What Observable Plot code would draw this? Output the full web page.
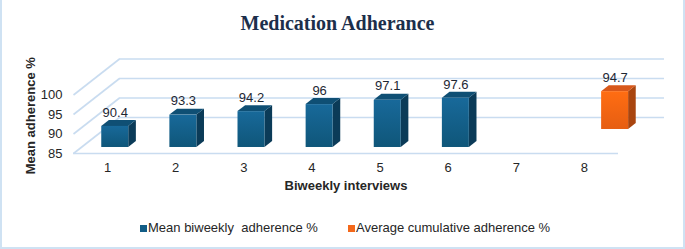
<!DOCTYPE html>
<html>
<head>
<meta charset="utf-8">
<script src="https://cdn.jsdelivr.net/npm/d3@7"></script>
<script src="https://cdn.jsdelivr.net/npm/@observablehq/plot@0.6"></script>
<style>
html,body{margin:0;padding:0;background:#fff;}
#wrap{position:relative;width:685px;height:249px;overflow:hidden;font-family:"Liberation Sans",Arial,sans-serif;background:#fff;}
#title{position:absolute;left:-5px;top:12px;width:685px;text-align:center;font-family:"Liberation Serif","Times New Roman",serif;font-weight:bold;font-size:20px;line-height:22px;color:#1c2f4b;}
#chart{position:absolute;left:0;top:40px;}
#legend{position:absolute;left:0;top:220px;width:685px;height:16px;font-size:13px;line-height:16px;color:#262626;}
.item{position:absolute;top:0;white-space:pre;}
.sw{display:inline-block;width:7px;height:7px;margin-right:1px;vertical-align:0px;}
#border{position:absolute;left:0;top:0;width:685px;height:249px;box-sizing:border-box;border:2px solid #cfe2f3;border-top:none;pointer-events:none;}
</style>
</head>
<body>
<div id="wrap">
  <div id="title"></div>
  <div id="chart"></div>
  <div id="legend"></div>
  <div id="border"></div>
</div>
<script>
// ---- data ----
const titleText = "Medication Adherance";
const xLabel = "Biweekly interviews";
const yLabel = "Mean adherence %";
const interviews = [1, 2, 3, 4, 5, 6];
const biweekly = [90.4, 93.3, 94.2, 96, 97.1, 97.6];
const cumulativePos = [8];
const cumulative = [94.7];
const xTicks = [1, 2, 3, 4, 5, 6, 7, 8];
const yTicks = [85, 90, 95, 100];
const seriesNames = ["Mean biweekly  adherence %", "Average cumulative adherence %"];

// ---- style / perspective ----
const BASE = 85;
const DX = 0.675;   // x shift (data units) for full floor depth
const DY = 9.23;    // y shift (data units) for full floor depth
const HALF = 0.198; // half bar width (data units)
const grid = "#c9dcf0";
const colors = {
  blue:   {front: "url(#gBlue)", top: "#0f4f74", side: "#0b3b58", sw: "#125d86"},
  orange: {front: "url(#gOrange)", top: "#d8581a", side: "#a9450f", sw: "#f4681a"}
};

const bars = [
  ...interviews.map((x, i) => ({id: "b" + i, x, v: biweekly[i], f0: 0.167, f1: 0.333, s: "blue"})),
  ...cumulativePos.map((x, i) => ({id: "o" + i, x, v: cumulative[i], f0: 0.667, f1: 0.833, s: "orange"}))
];

function pts(kind) {
  const out = [];
  for (const b of bars) {
    const L = b.x - HALF, R = b.x + HALF;
    if (kind === "side") {
      for (const f of [b.f0, b.f1]) out.push({id: b.id, s: b.s, x: R + DX * f, y1: BASE + DY * f, y2: b.v + DY * f});
    } else if (kind === "top") {
      for (const f of [b.f0, b.f1]) out.push({id: b.id, s: b.s, y: b.v + DY * f, x1: L + DX * f, x2: R + DX * f});
    } else if (kind === "shadow") {
      for (const f of [b.f0 - 0.01, b.f1 + 0.08]) out.push({id: b.id, y: BASE + DY * f, x1: L + DX * f - 0.2, x2: R + DX * f + 0.16});
    }
  }
  return out;
}

const svg = Plot.plot({
  width: 685,
  height: 172,
  marginLeft: 73,
  marginRight: 67,
  marginTop: 15.5,
  marginBottom: 59,
  style: {fontFamily: "'Liberation Sans', Arial, sans-serif", fontSize: "13px", color: "#262626", background: "transparent", overflow: "visible"},
  x: {domain: [0.5, 8.5]},
  y: {domain: [85, 110]},
  marks: [
    // back wall
    Plot.ruleY(yTicks, {y: d => d + DY, x1: 0.5 + DX, x2: 8.5 + DX, stroke: grid, strokeWidth: 1.6}),
    // side wall
    Plot.link(yTicks, {x1: 0.5, y1: d => d, x2: 0.5 + DX, y2: d => d + DY, stroke: grid, strokeWidth: 1.6}),
    // floor front edge
    Plot.ruleY([BASE], {x1: 0.5, x2: 8.5, stroke: grid, strokeWidth: 1.6}),
    // shadows
    Plot.areaX(pts("shadow"), {y: "y", x1: "x1", x2: "x2", z: "id", fill: "#4a4a4a", fillOpacity: 0.55, ariaLabel: "shadow"}),
    // side faces
    Plot.areaY(pts("side"), {x: "x", y1: "y1", y2: "y2", z: "id", fill: d => colors[d.s].side, curve: "linear"}),
    // top faces
    Plot.areaX(pts("top"), {y: "y", x1: "x1", x2: "x2", z: "id", fill: d => colors[d.s].top, curve: "linear"}),
    // front faces
    Plot.rect(bars, {x1: d => d.x - HALF + DX * d.f0, x2: d => d.x + HALF + DX * d.f0, y1: d => BASE + DY * d.f0, y2: d => d.v + DY * d.f0, fill: d => colors[d.s].front}),
    // value labels
    Plot.text(bars, {x: d => d.x + DX * d.f0, y: d => d.v + DY * d.f1, dy: -8, text: d => String(d.v), fill: "#1e2733", fontSize: 13}),
    // axes
    Plot.axisY(yTicks, {tickSize: 0, tickPadding: 11, label: null, fill: "#262626"}),
    Plot.axisX(xTicks, {tickSize: 0, tickPadding: 9, label: null, fill: "#262626"}),
    Plot.text([xLabel], {frameAnchor: "bottom", dy: 36.5, fontWeight: "bold", fontSize: 13, fill: "#262626"}),
    Plot.text([yLabel], {frameAnchor: "left", textAnchor: "middle", dx: -43, dy: 11, rotate: -90, fontWeight: "bold", fontSize: 13, fill: "#262626"})
  ]
});

// gradients + blur
const defs = d3.select(svg).insert("defs", ":first-child");
const gb = defs.append("linearGradient").attr("id", "gBlue").attr("x1", 0).attr("y1", 0).attr("x2", 0).attr("y2", 1);
gb.append("stop").attr("offset", "0%").attr("stop-color", "#18699a");
gb.append("stop").attr("offset", "100%").attr("stop-color", "#0f5679");
const go = defs.append("linearGradient").attr("id", "gOrange").attr("x1", 0).attr("y1", 0).attr("x2", 0).attr("y2", 1);
go.append("stop").attr("offset", "0%").attr("stop-color", "#ff6d12");
go.append("stop").attr("offset", "100%").attr("stop-color", "#e65e12");
const fl = defs.append("filter").attr("id", "blur").attr("x", "-50%").attr("y", "-50%").attr("width", "200%").attr("height", "200%");
fl.append("feGaussianBlur").attr("stdDeviation", 2.2);
d3.select(svg).selectAll('g[aria-label="shadow"]').attr("filter", "url(#blur)");

document.getElementById("chart").appendChild(svg);
document.getElementById("title").textContent = titleText;

const legend = document.getElementById("legend");
const legendItems = [{name: seriesNames[0], c: colors.blue.sw, left: 140}, {name: seriesNames[1], c: colors.orange.sw, left: 348}];
for (const it of legendItems) {
  const el = document.createElement("span");
  el.className = "item";
  el.style.left = it.left + "px";
  const sw = document.createElement("span");
  sw.className = "sw";
  sw.style.background = it.c;
  el.appendChild(sw);
  el.appendChild(document.createTextNode(it.name));
  legend.appendChild(el);
}
</script>
</body>
</html>
